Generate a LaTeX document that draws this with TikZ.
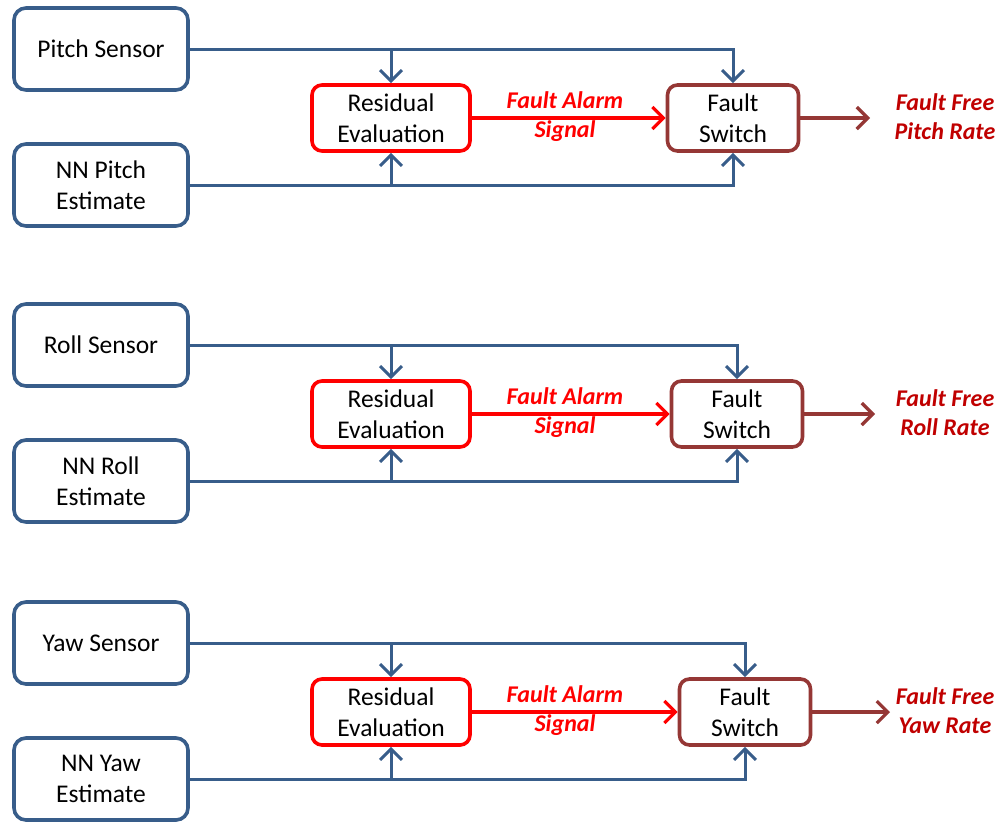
\documentclass[tikz,border=0pt]{standalone}
\usepackage{fontspec}
\setmainfont{Carlito}
\usepackage{xcolor}
\definecolor{linkblue}{RGB}{56,93,138}
\definecolor{evalred}{RGB}{255,0,0}
\definecolor{switchbrown}{RGB}{149,55,53}
\definecolor{outred}{RGB}{192,0,0}
\usetikzlibrary{arrows.meta,positioning,calc}

\begin{document}
\begin{tikzpicture}[x=1pt, y=-1pt,
    inbox/.style={rectangle, rounded corners=12pt,
                  draw=linkblue, line width=3.6pt, fill=white,
                  minimum width=174pt, minimum height=82pt,
                  align=center, font=\fontsize{25.5}{31}\selectfont},
    evalbox/.style={rectangle, rounded corners=10pt,
                    draw=evalred, line width=3.6pt, fill=white,
                    minimum width=158pt, minimum height=66pt,
                    align=center, font=\fontsize{25.5}{31}\selectfont},
    swbox/.style={rectangle, rounded corners=10pt,
                  draw=switchbrown, line width=3.6pt, fill=white,
                  minimum width=131pt, minimum height=66pt,
                  align=center, font=\fontsize{25.5}{31}\selectfont},
    feed/.style={linkblue, line width=3pt,
                 -{Straight Barb[length=11pt,width=22pt,line width=3pt]}},
    alarm/.style={evalred, line width=3.2pt,
                  -{Straight Barb[length=11pt,width=22pt,line width=3.2pt]}},
    outarr/.style={switchbrown, line width=3.2pt,
                   -{Straight Barb[length=11pt,width=22pt,line width=3.2pt]}},
    tag/.style={align=center, font=\fontsize{24}{29}\selectfont\bfseries\itshape}
  ]
    \useasboundingbox (0,0) rectangle (1006,823);
    % one block per axis: name / vertical offset / switch x / output end x
    \foreach \nm/\oy/\sx/\ox in {Pitch/0/733/870, Roll/296/737/875, Yaw/594/745/890} {
      \node[inbox] (sen\nm) at (101,49+\oy) {\nm\ Sensor};
      \node[inbox] (nn\nm) at (101,185+\oy) {NN \nm\\Estimate};
      \node[evalbox] (res\nm) at (391,118+\oy) {Residual\\Evaluation};
      \node[swbox] (sw\nm) at (\sx,118+\oy) {Fault\\Switch};
      \coordinate (out\nm) at (\ox,118+\oy);
      \draw[feed] (sen\nm.east) -| (sw\nm.north);
      \draw[feed] (sen\nm.east -| res\nm.north) -- (res\nm.north);
      \draw[feed] (nn\nm.east) -| (sw\nm.south);
      \draw[feed] (nn\nm.east -| res\nm.south) -- (res\nm.south);
      \draw[alarm] (res\nm.east) -- (sw\nm.west);
      \node[tag, text=evalred] (alm\nm) at (565,117+\oy) {Fault Alarm\\Signal};
      \draw[outarr] (sw\nm.east) -- (out\nm);
      \node[tag, text=outred] (lbl\nm) at (945,117+\oy) {Fault Free\\\nm\ Rate};
    }
\end{tikzpicture}
\end{document}
